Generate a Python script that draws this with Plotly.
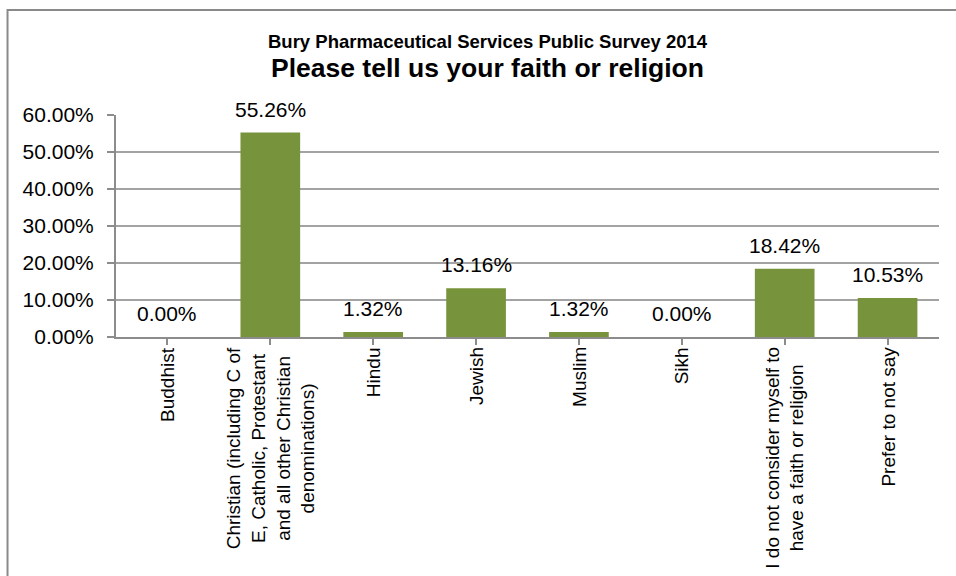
import plotly.graph_objects as go

# Survey responses: share of respondents by faith / religion
categories = [
    "Buddhist",
    "Christian (including C of<br>E, Catholic, Protestant<br>and all other Christian<br>denominations)",
    "Hindu",
    "Jewish",
    "Muslim",
    "Sikh",
    "I do not consider myself to<br>have a faith or religion",
    "Prefer to not say",
]
shares = [0.0, 55.26, 1.32, 13.16, 1.32, 0.0, 18.42, 10.53]
y_ticks = [0, 10, 20, 30, 40, 50, 60]
y_tick_labels = ["0.00%", "10.00%", "20.00%", "30.00%", "40.00%", "50.00%", "60.00%"]

title_main = "Please tell us your faith or religion"
title_sub = "Bury Pharmaceutical Services Public Survey 2014"

FONT = "Liberation Sans, Arial, sans-serif"
BAR = "#77933C"
GRID = "#a3a3a3"
AXIS = "#8c8c8c"

x_idx = list(range(len(categories)))

fig = go.Figure(
    go.Bar(
        x=x_idx,
        y=shares,
        marker=dict(color=BAR, line=dict(width=0)),
        width=0.58,
        hoverinfo="skip",
    )
)

# value labels above each bar
for i, v in zip(x_idx, shares):
    fig.add_annotation(
        x=i, y=v, xref="x", yref="y",
        text=f"{v:.2f}%", showarrow=False,
        yanchor="bottom", yshift=10,
        font=dict(family=FONT, size=21, color="#000000"),
    )

# rotated category labels beneath the axis
for i, name in zip(x_idx, categories):
    fig.add_annotation(
        x=i, y=0, xref="x", yref="paper",
        text=name, showarrow=False, textangle=-90,
        xanchor="center", yanchor="top", yshift=-8, align="center",
        font=dict(family=FONT, size=19, color="#000000"),
    )

# two-line heading
fig.add_annotation(
    x=0.452, y=1.33, xref="paper", yref="paper",
    text=f"<b>{title_sub}</b>", showarrow=False,
    xanchor="center", yanchor="middle",
    font=dict(family=FONT, size=18.5, color="#000000"),
)
fig.add_annotation(
    x=0.452, y=1.21, xref="paper", yref="paper",
    text=f"<b>{title_main}</b>", showarrow=False,
    xanchor="center", yanchor="middle",
    font=dict(family=FONT, size=26.5, color="#000000"),
)

# chart-area frame
fig.add_shape(
    type="rect", xref="paper", yref="paper",
    x0=-0.1318, x1=1.06, y0=-1.2, y1=1.473,
    line=dict(color="#8a8a8a", width=2), fillcolor="rgba(0,0,0,0)",
    layer="below",
)

fig.update_layout(
    width=956, height=576,
    margin=dict(l=116, r=17, t=115, b=239),
    paper_bgcolor="#ffffff", plot_bgcolor="#ffffff",
    showlegend=False,
    bargap=0.42,
    font=dict(family=FONT, color="#000000"),
)

fig.update_xaxes(
    range=[-0.5, len(categories) - 0.5],
    tickmode="array", tickvals=x_idx, ticktext=[""] * len(categories),
    tickson="boundaries", ticks="outside", ticklen=6, tickcolor=AXIS, tickwidth=1.5,
    showline=True, linecolor=AXIS, linewidth=2,
    showgrid=False, zeroline=False,
)

fig.update_yaxes(
    range=[0, 60],
    tickmode="array", tickvals=y_ticks, ticktext=y_tick_labels,
    ticks="outside", ticklen=7, tickcolor=AXIS, tickwidth=1.5,
    ticklabelstandoff=9,
    tickfont=dict(family=FONT, size=21, color="#000000"),
    showline=True, linecolor=AXIS, linewidth=2,
    showgrid=True, gridcolor=GRID, gridwidth=1.5,
    zeroline=False,
)

fig.write_html("out.html")
